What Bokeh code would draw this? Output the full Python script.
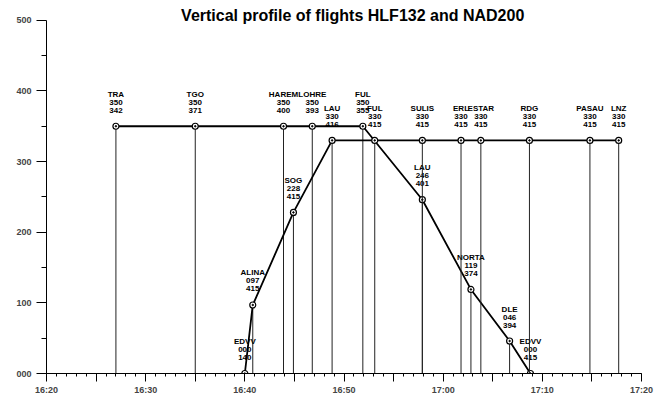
from bokeh.plotting import figure
from bokeh.models import Range1d, FixedTicker, Label, ColumnDataSource
from bokeh.core.properties import value
from bokeh.embed import file_html
from bokeh.resources import INLINE

# ---- data ----
title_text = "Vertical profile of flights HLF132  and NAD200"

a_names = ["TRA", "TGO", "HAREM", "LOHRE", "FUL", "LAU", "NORTA", "DLE", "EDVV"]
a_times = ["16:27:00", "16:35:00", "16:43:54", "16:46:48", "16:51:54",
           "16:57:54", "17:02:48", "17:06:42", "17:08:48"]
a_levels = [350, 350, 350, 350, 350, 246, 119, 46, 0]
a_speeds = [342, 371, 400, 393, 355, 401, 374, 394, 415]

b_names = ["EDVV", "ALINA", "SOG", "LAU", "FUL", "SULIS", "ERL", "ESTAR",
           "RDG", "PASAU", "LNZ"]
b_times = ["16:40:00", "16:40:48", "16:44:54", "16:48:48", "16:53:06",
           "16:57:54", "17:01:48", "17:03:48", "17:08:42", "17:14:48", "17:17:42"]
b_levels = [0, 97, 228, 330, 330, 330, 330, 330, 330, 330, 330]
b_speeds = [140, 415, 415, 416, 415, 415, 415, 415, 415, 415, 415]

x_tick_labels = ["16:20", "16:30", "16:40", "16:50", "17:00", "17:10", "17:20"]
y_ticks = [0, 100, 200, 300, 400, 500]


def tmin(s):
    h, m, sec = s.split(":")
    return (int(h) - 16) * 60 + int(m) + int(sec) / 60.0


p = figure(width=655, height=402, output_backend="svg", toolbar_location=None,
           x_range=Range1d(20, 80), y_range=Range1d(0, 528),
           min_border_left=46, min_border_right=14, min_border_top=0,
           min_border_bottom=29)
p.outline_line_color = None
p.xgrid.grid_line_color = None
p.ygrid.grid_line_color = None
p.background_fill_color = "white"
p.border_fill_color = "white"

label_font = value("Liberation Sans Narrow, Liberation Sans")

for names, times, levels, speeds in [(a_names, a_times, a_levels, a_speeds),
                                     (b_names, b_times, b_levels, b_speeds)]:
    xs = [tmin(t) for t in times]
    src = ColumnDataSource(dict(
        x=xs, y=levels, y0=[0] * len(xs), name=names,
        lvl=["%03d" % v for v in levels], spd=["%03d" % v for v in speeds]))
    p.segment(x0="x", y0="y0", x1="x", y1="y", source=src,
              line_color="#222222", line_width=1)
    p.line(x="x", y="y", source=src, line_color="black", line_width=1.8)
    p.scatter(x="x", y="y", source=src, size=6, marker="circle",
              fill_color="white", line_color="black", line_width=1.2)
    p.scatter(x="x", y="y", source=src, size=1.5, marker="circle",
              fill_color="black", line_color="black")
    for col, off in [("name", -32), ("lvl", -24), ("spd", -16)]:
        p.text(x="x", y="y", text=col, source=src, y_offset=off,
               text_align="center", text_baseline="middle",
               text_font=label_font, text_font_style="bold",
               text_font_size="8px", text_color="black")

# axes
xa = p.xaxis[0]
xa.ticker = FixedTicker(ticks=list(range(20, 81, 5)),
                        minor_ticks=list(range(20, 81, 1)))
overrides = {}
for t in range(20, 81, 5):
    overrides[t] = ""
for i, t in enumerate(range(20, 81, 10)):
    overrides[t] = x_tick_labels[i]
xa.major_label_overrides = overrides
xa.major_tick_in = 0
xa.major_tick_out = 8
xa.minor_tick_in = 0
xa.minor_tick_out = 3
xa.major_label_standoff = 3
xa.major_label_text_font = "Liberation Sans"
xa.major_label_text_font_style = "bold"
xa.major_label_text_font_size = "9px"
xa.axis_line_color = "black"

ya = p.yaxis[0]
ya.bounds = (0, 500)
ya.ticker = FixedTicker(ticks=y_ticks, minor_ticks=list(range(50, 500, 100)))
ya.major_label_overrides = {v: "%03d" % v for v in y_ticks}
ya.major_tick_in = 0
ya.major_tick_out = 10
ya.minor_tick_in = 0
ya.minor_tick_out = 5
ya.major_label_standoff = 5
ya.major_label_text_font = "Liberation Sans"
ya.major_label_text_font_style = "bold"
ya.major_label_text_font_size = "9px"
ya.axis_line_color = "black"

title = Label(x=51.1, y=500, y_offset=5, text=title_text,
              text_align="center", text_baseline="middle",
              text_font="Liberation Sans", text_font_style="bold",
              text_font_size="16px", text_color="black")
p.add_layout(title)

open("out.html", "w").write(file_html(p, INLINE))
